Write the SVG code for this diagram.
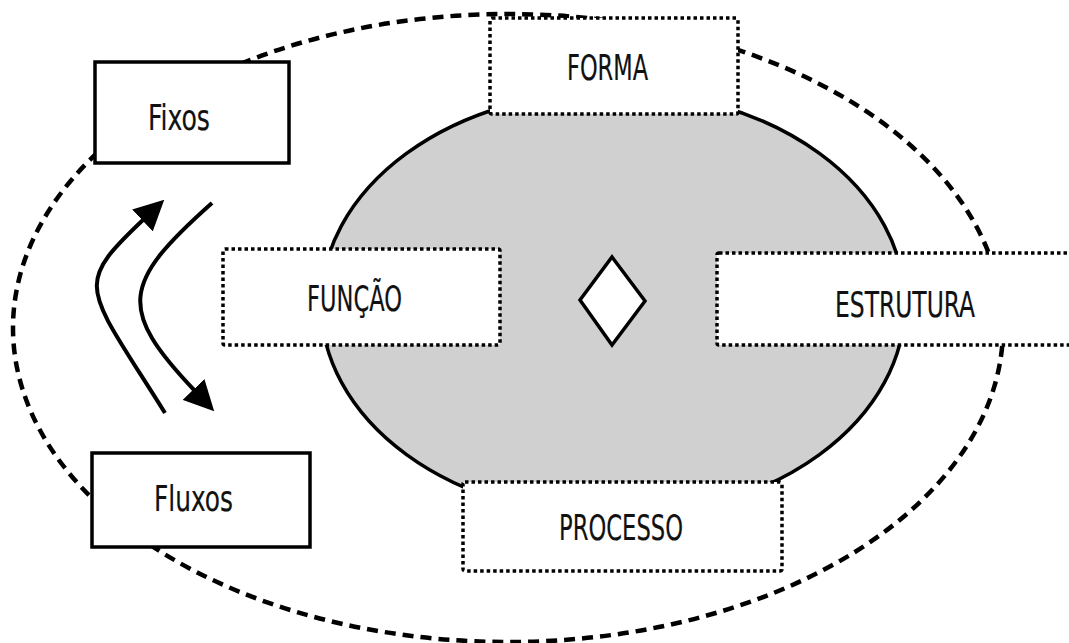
<svg xmlns="http://www.w3.org/2000/svg" width="1069" height="643" viewBox="0 0 1069 643">
  <defs>
    <style>
      .outer { fill: none; stroke: #000; stroke-width: 4.5; stroke-dasharray: 11 7; }
      .core { fill: #d0d0d0; stroke: #000; stroke-width: 3.5; }
      .solid { fill: #fff; stroke: #000; stroke-width: 3.5; }
      .dotted { fill: #fff; stroke: #000; stroke-width: 3.5; stroke-dasharray: 3.5 3; }
      .diamond { fill: #fff; stroke: #000; stroke-width: 3.5; stroke-linejoin: miter; }
      .flow { fill: none; stroke: #000; stroke-width: 4; stroke-linecap: butt; }
      .label { font-family: "DejaVu Sans Condensed", "DejaVu Sans", sans-serif; font-size: 36px; fill: #111; stroke: #111; stroke-width: 0.2; }
    </style>
    <marker id="head" markerUnits="userSpaceOnUse" markerWidth="30" markerHeight="30" viewBox="0 0 28 28" refX="2" refY="14" orient="auto">
      <path d="M0,0 L28,14 L0,28 Z" fill="#000"/>
    </marker>
  </defs>

  <!-- surrounding space -->
  <g id="space">
    <ellipse class="outer" cx="508" cy="328" rx="495" ry="314"/>
  </g>

  <!-- central object -->
  <g id="object">
    <ellipse class="core" cx="613" cy="304" rx="292" ry="213"/>
  </g>

  <g id="node-fixos">
    <rect class="solid" x="95" y="62" width="194" height="101"/>
    <text class="label" x="148" y="130" textLength="62" lengthAdjust="spacingAndGlyphs">Fixos</text>
  </g>

  <g id="node-fluxos">
    <rect class="solid" x="92" y="453" width="218" height="94"/>
    <text class="label" x="154" y="511" textLength="79" lengthAdjust="spacingAndGlyphs">Fluxos</text>
  </g>

  <g id="node-forma">
    <rect class="dotted" x="490" y="18" width="248" height="96" rx="2"/>
    <text class="label" x="567" y="80" textLength="81" lengthAdjust="spacingAndGlyphs">FORMA</text>
  </g>

  <g id="node-funcao">
    <rect class="dotted" x="223" y="249" width="277" height="96" rx="2"/>
    <text class="label" x="307" y="311" textLength="95" lengthAdjust="spacingAndGlyphs">FUNÇÃO</text>
  </g>

  <g id="node-estrutura">
    <rect class="dotted" x="717" y="253" width="370" height="92" rx="2"/>
    <text class="label" x="835" y="317" textLength="140" lengthAdjust="spacingAndGlyphs">ESTRUTURA</text>
  </g>

  <g id="node-processo">
    <rect class="dotted" x="463" y="482" width="319" height="89" rx="2"/>
    <text class="label" x="559" y="540" textLength="124" lengthAdjust="spacingAndGlyphs">PROCESSO</text>
  </g>

  <g id="node-center">
    <polygon class="diamond" points="612,257 645,301 612,345 580,300"/>
  </g>

  <!-- exchange arrows between fixos and fluxos -->
  <g id="connectors">
    <path class="flow" d="M165,413 C85,285 72,287 144,219" marker-end="url(#head)"/>
    <path class="flow" d="M212,203 C122,283 117,309 195,391" marker-end="url(#head)"/>
  </g>
</svg>
